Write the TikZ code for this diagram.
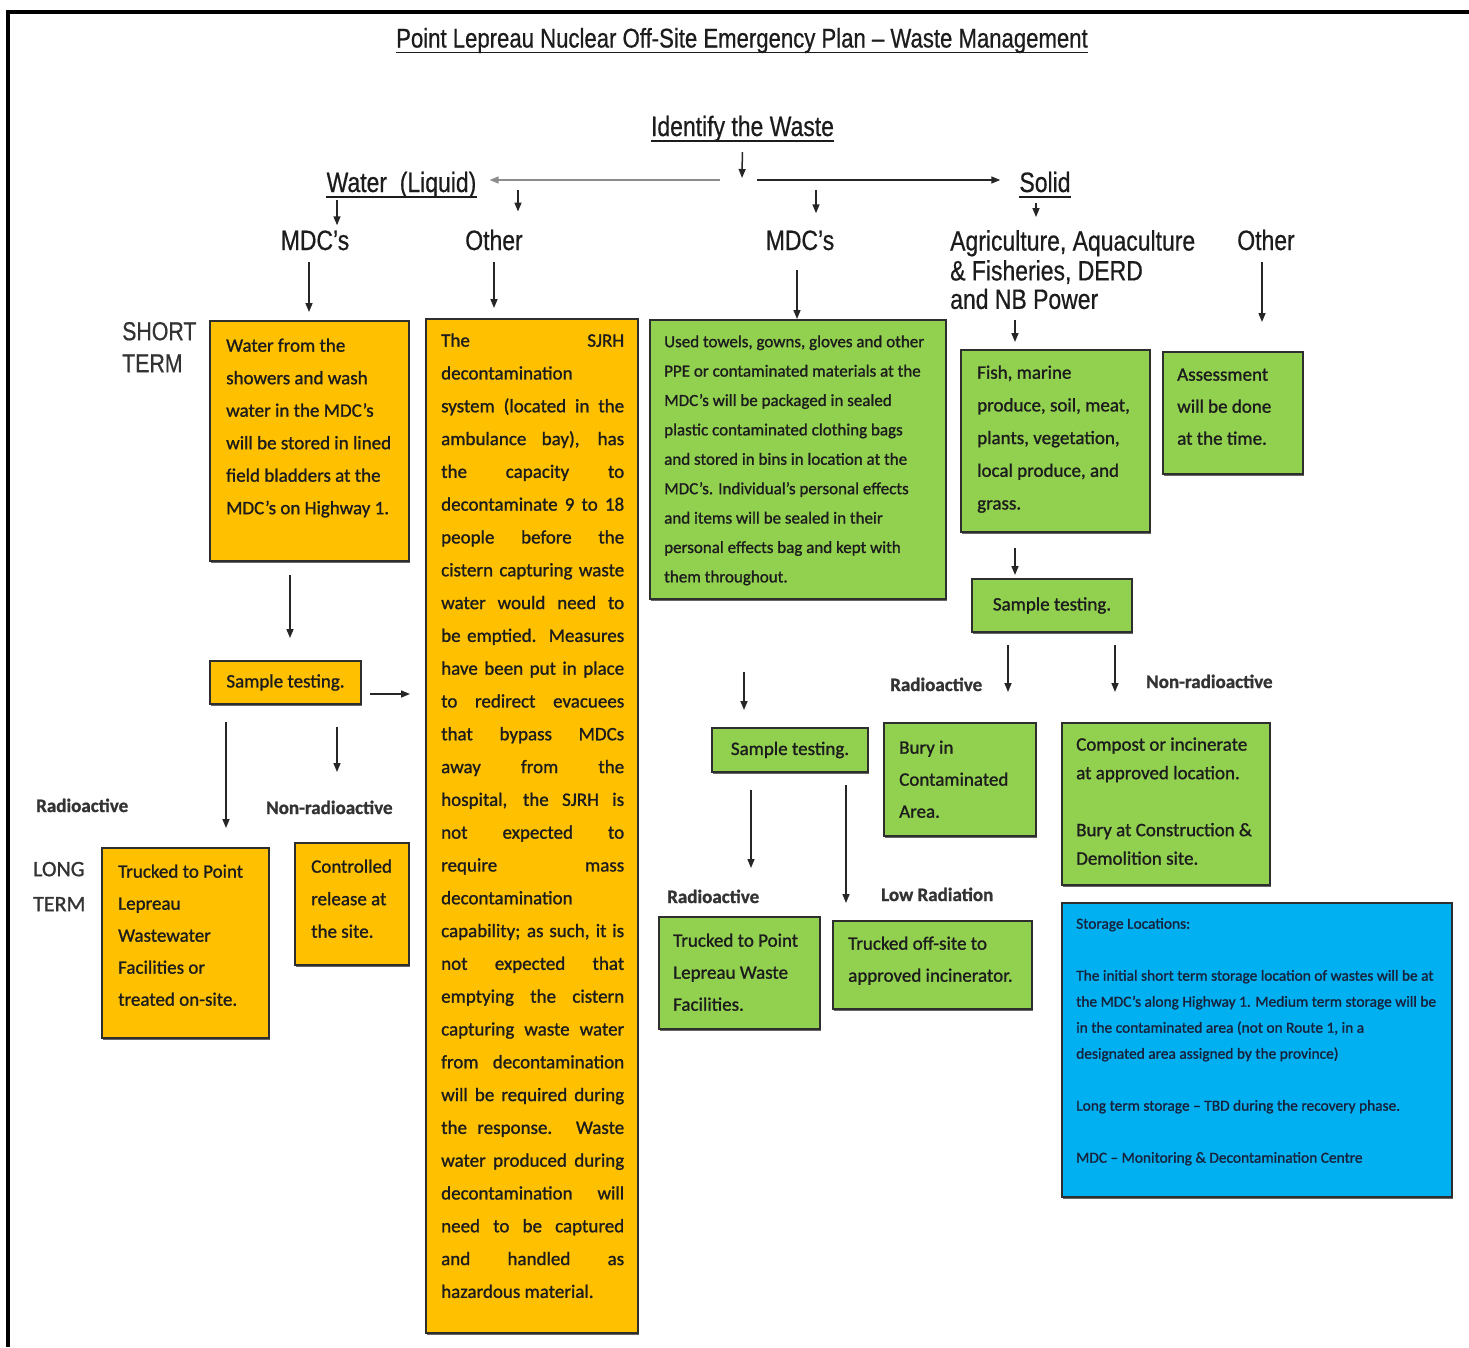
\documentclass[tikz,border=0pt]{standalone}
\usepackage{fontspec}
\setmainfont{Carlito}
\newfontfamily\hdrfont[FakeStretch=0.82,FakeBold=0.6]{Liberation Sans}
\newfontfamily\bodyfont[FakeBold=1.1]{Carlito}
\usetikzlibrary{arrows.meta,shadows}

\definecolor{amber}{HTML}{FFC000}
\definecolor{leaf}{HTML}{92D050}
\definecolor{sky}{HTML}{00B0F0}
\definecolor{edge}{HTML}{2E2E2E}
\definecolor{ink}{HTML}{1C1C1C}
\definecolor{navy}{HTML}{17223D}

% one justified line of the tall "Other" box
\newcommand\jl[1]{\makebox[183pt][s]{#1}}

\tikzset{
  box/.style={draw=edge, line width=2, inner sep=0, outer sep=0, anchor=north west,
              drop shadow={shadow xshift=1.2pt, shadow yshift=-1.6pt, fill=black!60, opacity=1}},
  obox/.style={box, fill=amber},
  gbox/.style={box, fill=leaf},
  bbox/.style={box, fill=sky},
  para/.style={anchor=north west, inner sep=0, align=left, text=ink,
               font=\bodyfont\fontsize{19}{#1}\selectfont},
  hdr/.style={anchor=base, inner sep=0, text=ink, font=\hdrfont\fontsize{28}{28.5}\selectfont},
  lbl/.style={anchor=base west, inner sep=0, text=black!80, font=\bodyfont\bfseries\fontsize{19}{19}\selectfont},
  arr/.style={-{Triangle[length=9,width=7]}, line width=1.5, draw=black!85},
  ul/.style={line width=1.6, draw=ink},
  frame/.style={line width=4, draw=black},
}

\begin{document}
\begin{tikzpicture}[x=1pt, y=-1pt]
\useasboundingbox (0,0) rectangle (1469,1347);

% outer frame
\draw[frame] (8,1347) -- (8,12) -- (1469,12);

% title and top-level headings
\node[hdr, font=\hdrfont\fontsize{27}{27}\selectfont] (title) at (742,47.5)
  {Point Lepreau Nuclear Off-Site Emergency Plan – Waste Management};
\draw[ul] ([yshift=-5]title.base west) -- ([yshift=-5]title.base east);

\node[hdr] (idw) at (742.5,136) {Identify the Waste};
\draw[ul] ([yshift=-5]idw.base west) -- ([yshift=-5]idw.base east);

\node[hdr] (water) at (401.5,192) {Water \ (Liquid)};
\draw[ul] ([yshift=-5]water.base west) -- ([yshift=-5]water.base east);

\node[hdr] (solid) at (1045,192) {Solid};
\draw[ul] ([yshift=-5]solid.base west) -- ([yshift=-5]solid.base east);

\node[hdr] (mdcL) at (315,250) {MDC’s};
\node[hdr] (otherL) at (494,250) {Other};
\node[hdr] (mdcM) at (800,250) {MDC’s};
\node[hdr, anchor=north west, align=left] (agri) at (950,230.05)
  {\strut Agriculture, Aquaculture\\\& Fisheries, DERD\\and NB Power};
\node[hdr] (otherR) at (1266,250) {Other};

% term labels
\node[anchor=north west, inner sep=0, align=left, text=black!80,
      font=\hdrfont\fontsize{26}{32}\selectfont] (short) at (122,317.6) {\strut SHORT\\TERM};
\node[anchor=north west, inner sep=0, align=left, text=black!80,
      font=\bodyfont\fontsize{22}{35}\selectfont] (long) at (33,851.5) {\strut LONG\\TERM};

% ---------------- liquid waste branch ----------------
\node[obox, minimum width=199, minimum height=240] (b1) at (210,321) {};
\node[para=32.5] (b1t) at (226,328.75)
  {\strut Water from the\\showers and wash\\water in the MDC’s\\will be stored in lined\\field bladders at the\\MDC’s on Highway 1.};

\node[obox, minimum width=212, minimum height=1014] (b2) at (426,319) {};
\node[para=32.8] (b2t) at (441,323.5)
  {\strut\jl{The SJRH}\\
   decontamination\\
   \jl{system (located in the}\\
   \jl{ambulance bay), has}\\
   \jl{the capacity to}\\
   \jl{decontaminate 9 to 18}\\
   \jl{people before the}\\
   \jl{cistern capturing waste}\\
   \jl{water would need to}\\
   \jl{be emptied. Measures}\\
   \jl{have been put in place}\\
   \jl{to redirect evacuees}\\
   \jl{that bypass MDCs}\\
   \jl{away from the}\\
   \jl{hospital, the SJRH is}\\
   \jl{not expected to}\\
   \jl{require mass}\\
   decontamination\\
   \jl{capability; as such, it is}\\
   \jl{not expected that}\\
   \jl{emptying the cistern}\\
   \jl{capturing waste water}\\
   \jl{from decontamination}\\
   \jl{will be required during}\\
   \jl{the response. Waste}\\
   \jl{water produced during}\\
   \jl{decontamination will}\\
   \jl{need to be captured}\\
   \jl{and handled as}\\
   hazardous material.};

\node[obox, minimum width=151, minimum height=43, text=ink,
      font=\bodyfont\fontsize{19}{19}\selectfont] (s1) at (210,661) {Sample testing.};

\node[lbl] (radL) at (36,812) {Radioactive};
\node[lbl] (nonradL) at (266,814) {Non-radioactive};

\node[obox, minimum width=167, minimum height=190] (b3) at (102,848) {};
\node[para=32] (b3t) at (118,855.1)
  {\strut Trucked to Point\\Lepreau\\Wastewater\\Facilities or\\treated on-site.};

\node[obox, minimum width=114, minimum height=122] (b4) at (295,843) {};
\node[para=32.5] (b4t) at (311,849.75)
  {\strut Controlled\\release at\\the site.};

% ---------------- solid waste branch ----------------
\node[gbox, minimum width=296, minimum height=279] (g1) at (650,320) {};
\node[anchor=north west, inner sep=0, align=left, text=ink,
      font=\bodyfont\fontsize{17}{29.4}\selectfont] (g1t) at (664,326.4)
  {\strut Used towels, gowns, gloves and other\\
   PPE or contaminated materials at the\\
   MDC’s will be packaged in sealed\\
   plastic contaminated clothing bags\\
   and stored in bins in location at the\\
   MDC’s. Individual’s personal effects\\
   and items will be sealed in their\\
   personal effects bag and kept with\\
   them throughout.};

\node[gbox, minimum width=189, minimum height=182] (g2) at (961,350) {};
\node[para=32.7] (g2t) at (977,355.6)
  {\strut Fish, marine\\produce, soil, meat,\\plants, vegetation,\\local produce, and\\grass.};

\node[gbox, minimum width=140, minimum height=122] (g3) at (1163,352) {};
\node[para=32] (g3t) at (1177,358.1)
  {\strut Assessment\\will be done\\at the time.};

\node[gbox, minimum width=160, minimum height=53, text=ink,
      font=\bodyfont\fontsize{19}{19}\selectfont] (g4) at (972,579) {Sample testing.};

\node[lbl] (radG) at (890,691) {Radioactive};
\node[lbl] (nonradG) at (1146,688) {Non-radioactive};

\node[gbox, minimum width=152, minimum height=113] (g5) at (884,723) {};
\node[para=32] (g5t) at (899,731.1)
  {\strut Bury in\\Contaminated\\Area.};

\node[gbox, minimum width=208, minimum height=162] (g6) at (1062,723) {};
\node[para=28.5] (g6t) at (1076,730.5)
  {\strut Compost or incinerate\\at approved location.\\[28.5pt]Bury at Construction \&\\Demolition site.};

\node[gbox, minimum width=156, minimum height=44, text=ink,
      font=\bodyfont\fontsize{19}{19}\selectfont] (g7) at (712,728) {Sample testing.};

\node[lbl] (radG7) at (667,903) {Radioactive};
\node[lbl] (lowRad) at (881,901) {Low Radiation};

\node[gbox, minimum width=161, minimum height=112] (g8) at (659,917) {};
\node[para=32] (g8t) at (673,924.1)
  {\strut Trucked to Point\\Lepreau Waste\\Facilities.};

\node[gbox, minimum width=199, minimum height=88] (g9) at (833,921) {};
\node[para=32] (g9t) at (848,927.1)
  {\strut Trucked off-site to\\approved incinerator.};

% storage notes
\node[bbox, minimum width=390, minimum height=294] (store) at (1062,903) {};
\node[anchor=north west, inner sep=0, align=left, text=navy,
      font=\bodyfont\fontsize{15.4}{26}\selectfont] (storet) at (1076,910.3)
  {\strut Storage Locations:\\[26pt]
   The initial short term storage location of wastes will be at\\
   the MDC’s along Highway 1. Medium term storage will be\\
   in the contaminated area (not on Route 1, in a\\
   designated area assigned by the province)\\[26pt]
   Long term storage – TBD during the recovery phase.\\[26pt]
   MDC – Monitoring \& Decontamination Centre};

% ---------------- connectors ----------------
\coordinate (hub) at (742,180);
\draw[arr, shorten <=10, shorten >=2] (idw.south) -- (hub);
\draw[arr, draw=black!45, shorten <=22, shorten >=13] (hub) -- (hub -| water.east);
\draw[arr, shorten <=15, shorten >=19] (hub) -- (hub -| solid.west);

\coordinate (c4) at (337,200);
\draw[arr, shorten >=5] (c4) -- (c4 |- mdcL.north);
\coordinate (c5) at (518,190);
\draw[arr, shorten >=18] (c5) -- (c5 |- otherL.north);
\coordinate (c6) at (816,190);
\draw[arr, shorten >=17] (c6) -- (c6 |- mdcM.north);
\coordinate (c7) at (1036,203);
\draw[arr, shorten >=13] (c7) -- (c7 |- agri.north);

\coordinate (c8) at (309,262);
\draw[arr, shorten >=9] (c8) -- (c8 |- b1.north);
\coordinate (c9) at (494,262);
\draw[arr, shorten >=11] (c9) -- (c9 |- b2.north);
\coordinate (c10) at (797,270);
\draw[arr, shorten >=1] (c10) -- (c10 |- g1.north);
\coordinate (c11) at (1015,320);
\draw[arr, shorten >=8] (c11) -- (c11 |- g2.north);
\coordinate (c12) at (1262,262);
\draw[arr, shorten >=30] (c12) -- (c12 |- g3.north);

\coordinate (c13) at (290,575);
\draw[arr, shorten >=23] (c13) -- (c13 |- s1.north);
\coordinate (c14) at (370,694);
\draw[arr, shorten >=16] (c14) -- (c14 -| b2.west);
\coordinate (c15) at (226,722);
\draw[arr, shorten >=20] (c15) -- (c15 |- b3.north);
\coordinate (c16) at (337,727);
\draw[arr, shorten >=71] (c16) -- (c16 |- b4.north);

\coordinate (c17) at (1015,548);
\draw[arr, shorten >=4] (c17) -- (c17 |- g4.north);
\coordinate (c18) at (1008,645);
\draw[arr, shorten >=31] (c18) -- (c18 |- g5.north);
\coordinate (c19) at (1115,645);
\draw[arr, shorten >=31] (c19) -- (c19 |- g6.north);
\coordinate (c20) at (744,672);
\draw[arr, shorten >=18] (c20) -- (c20 |- g7.north);
\coordinate (c21) at (751,790);
\draw[arr, shorten >=49] (c21) -- (c21 |- g8.north);
\coordinate (c22) at (846,785);
\draw[arr, shorten >=18] (c22) -- (c22 |- g9.north);

\end{tikzpicture}
\end{document}
